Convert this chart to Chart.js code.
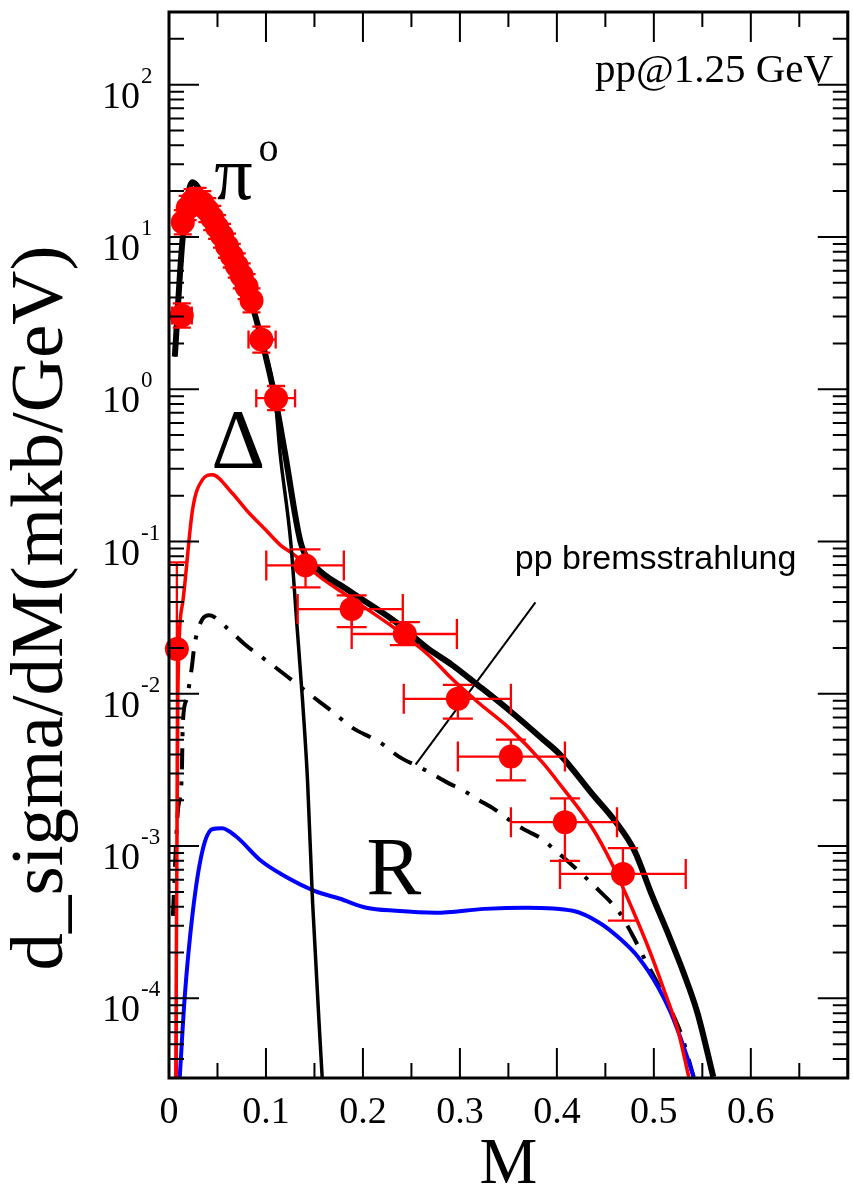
<!DOCTYPE html>
<html><head><meta charset="utf-8">
<style>
html,body{margin:0;padding:0;background:#fff;overflow:hidden;width:853px;height:1189px}
#wrap{width:853px;height:1189px;position:relative}
canvas{display:block}
</style>
<script src="https://cdn.jsdelivr.net/npm/chart.js@4/dist/chart.umd.min.js"></script>
</head><body><div id="wrap"><canvas id="c" width="853" height="1189"></canvas></div>
<script>
// ---------- data ----------
const totalM = [0.006, 0.0142, 0.0243, 0.04, 0.06, 0.0851, 0.0952, 0.1094, 0.1196, 0.1358, 0.15, 0.1834, 0.234, 0.2675, 0.2918, 0.3181, 0.3526, 0.386, 0.4032, 0.4367, 0.46, 0.4802, 0.4975, 0.5147, 0.5309, 0.5451, 0.5613];
const totalV = [1.64, 10, 22.9, 15.5, 8.5, 3.65, 2.15, 0.873, 0.382, 0.0985, 0.0697, 0.0486, 0.0296, 0.0197, 0.0155, 0.01146, 0.00763, 0.0050, 0.00399, 0.00219, 0.00146, 0.000927, 0.000485, 0.000266, 0.000146, 0.0000798, 0.0000305];

const pi0M = [0.006, 0.0142, 0.0243, 0.04, 0.06, 0.0851, 0.0952, 0.1094, 0.1145, 0.1256, 0.1317, 0.1378, 0.1429, 0.148, 0.158];
const pi0V = [1.64, 10, 22.9, 15.5, 8.5, 3.65, 2.15, 0.87, 0.382, 0.0984, 0.0296, 0.00887, 0.00266, 0.000437, 0.00003];

const deltaM = [0.007, 0.0091, 0.0142, 0.0243, 0.0344, 0.0446, 0.0648, 0.0821, 0.0993, 0.1155, 0.1256, 0.1429, 0.15, 0.1834, 0.234, 0.2675, 0.2918, 0.318, 0.3526, 0.386, 0.4032, 0.4367, 0.457, 0.4772, 0.4944, 0.5106, 0.5248, 0.536];
const deltaV = [0.00003, 0.0098, 0.040, 0.162, 0.254, 0.274, 0.209, 0.155, 0.120, 0.094, 0.0848, 0.0697, 0.0627, 0.0443, 0.0266, 0.018, 0.01254, 0.00887, 0.00582, 0.00349, 0.00254, 0.00131, 0.00076, 0.000394, 0.000215, 0.000113, 0.0000618, 0.0000305];

const resM = [0.0111, 0.0162, 0.0243, 0.0344, 0.0446, 0.0547, 0.0689, 0.0952, 0.1155, 0.15, 0.1763, 0.2036, 0.234, 0.2746, 0.3252, 0.3688, 0.4164, 0.4438, 0.464, 0.4843, 0.5046, 0.5177, 0.5309, 0.541];
const resV = [0.0000305, 0.000102, 0.00036, 0.000927, 0.00129, 0.00131, 0.00116, 0.000798, 0.000656, 0.000508, 0.000451, 0.000394, 0.000376, 0.000365, 0.000387, 0.000394, 0.000376, 0.000314, 0.00025, 0.000185, 0.000118, 0.0000798, 0.0000479, 0.0000305];

const bremM = [0.004, 0.0091, 0.0132, 0.0142, 0.0182, 0.0233, 0.0263, 0.0344, 0.0415, 0.0588, 0.079, 0.1023, 0.1226, 0.1459, 0.1662, 0.1905, 0.2107, 0.2209, 0.237, 0.2614, 0.2867, 0.305, 0.3181, 0.3354, 0.3526, 0.3658, 0.383, 0.3992, 0.4235, 0.4438, 0.464, 0.4772, 0.4904, 0.5076, 0.5177, 0.5279, 0.541];
const bremV = [0.000348, 0.00169, 0.00296, 0.00627, 0.00927, 0.01456, 0.0209, 0.0309, 0.0328, 0.0274, 0.0209, 0.0162, 0.0129, 0.00984, 0.00785, 0.0059, 0.00508, 0.00464, 0.00387, 0.00323, 0.00262, 0.00229, 0.00203, 0.00175, 0.00146, 0.00129, 0.00113, 0.000927, 0.000676, 0.000508, 0.00037, 0.000266, 0.000182, 0.000113, 0.0000835, 0.000059, 0.0000305];

const pointerM = [0.2543, 0.3779];
const pointerV = [0.00343, 0.0399];

// experimental points with error bars
const expM    = [0.0081, 0.0132, 0.0142, 0.0193, 0.0243, 0.0294, 0.0344, 0.0395, 0.0446, 0.0496, 0.0547, 0.0598, 0.0648, 0.0699, 0.075, 0.08, 0.0851, 0.0952, 0.1104, 0.1408, 0.1884, 0.2432, 0.2979, 0.3526, 0.4083, 0.4681];
const expV    = [0.0197, 3.05, 12.5, 15.5, 17.2, 17.5, 16.7, 15.0, 13.3, 11.6, 10.2, 8.73, 7.51, 6.46, 5.56, 4.71, 3.82, 2.12, 0.873, 0.0697, 0.036, 0.0247, 0.00927, 0.00387, 0.001435, 0.000656];
const expMlo  = [0.0031, 0.003, 0.0082, 0.0133, 0.0183, 0.0234, 0.0284, 0.0335, 0.0386, 0.0436, 0.0487, 0.0538, 0.0588, 0.0639, 0.069, 0.074, 0.0791, 0.082, 0.090, 0.1003, 0.1327, 0.1884, 0.2421, 0.2979, 0.3526, 0.4032];
const expMhi  = [0.0131, 0.0235, 0.0202, 0.0253, 0.0303, 0.0354, 0.0404, 0.0455, 0.0506, 0.0556, 0.0607, 0.0658, 0.0708, 0.0759, 0.081, 0.086, 0.0911, 0.110, 0.130, 0.1803, 0.2411, 0.2969, 0.3526, 0.4083, 0.462, 0.5329];
const expVlo  = [0.000001, 2.54, 10.4, 12.9, 14.3, 14.6, 13.9, 12.5, 11.1, 9.7, 8.5, 7.3, 6.3, 5.4, 4.6, 3.9, 3.2, 1.74, 0.73, 0.05, 0.0274, 0.0209, 0.00687, 0.0027, 0.0008, 0.000324];
const expVhi  = [0.073, 3.66, 15.0, 18.6, 20.6, 21.0, 20.0, 18.0, 16.0, 13.9, 12.2, 10.5, 9.0, 7.8, 6.7, 5.7, 4.6, 2.58, 1.05, 0.0887, 0.0443, 0.0296, 0.01146, 0.0050, 0.00206, 0.00097];

// axes (the right-hand frame at M = 0.7 lies just past the picture edge)
const X_MAJOR = [0, 0.1, 0.2, 0.3, 0.4, 0.5, 0.6, 0.7];
const X_MINOR = [0.05, 0.15, 0.25, 0.35, 0.45, 0.55, 0.65];
const X_LABELS = ['0', '0.1', '0.2', '0.3', '0.4', '0.5', '0.6'];
const X_MIN = 0, X_FRAME = 0.7, X_VISIBLE_MAX = 0.693;
const Y_DECADES = [2, 1, 0, -1, -2, -3, -4];
const Y_MIN = 3e-5, Y_MAX = 300;

// ---------- chart ----------
const xy = (xs, ys) => xs.map((x, i) => ({ x: x, y: ys[i] }));
const SERIF = '"Liberation Serif", "Times New Roman", serif';
const SANS = '"Liberation Sans", Arial, sans-serif';

function lineDs(label, xs, ys, color, width, extra) {
  return Object.assign({
    label: label, data: xy(xs, ys), showLine: true, borderColor: color,
    backgroundColor: color, borderWidth: width, pointRadius: 0, fill: false,
    cubicInterpolationMode: 'monotone', clip: 0, borderJoinStyle: 'round', borderCapStyle: 'butt'
  }, extra || {});
}

const decor = {
  id: 'decor',
  beforeDatasetDraw(chart, args) {
    if (args.index !== 0) return;
    const ctx = chart.ctx, xs = chart.scales.x, ys = chart.scales.y, a = chart.chartArea;
    ctx.save();
    ctx.beginPath(); ctx.rect(a.left, a.top, a.right - a.left, a.bottom - a.top); ctx.clip();
    ctx.strokeStyle = '#ff0000'; ctx.lineWidth = 2.3;
    for (let i = 0; i < expM.length; i++) {
      const px = xs.getPixelForValue(expM[i]), py = ys.getPixelForValue(expV[i]);
      const xl = xs.getPixelForValue(expMlo[i]), xh = xs.getPixelForValue(expMhi[i]);
      const yl = ys.getPixelForValue(expVlo[i]), yh = ys.getPixelForValue(expVhi[i]);
      const big = (expMhi[i] - expMlo[i]) > 0.05;
      const cap = big ? 15 : 9;
      ctx.beginPath();
      ctx.moveTo(xl, py); ctx.lineTo(xh, py);
      ctx.moveTo(xl, py - cap); ctx.lineTo(xl, py + cap);
      ctx.moveTo(xh, py - cap); ctx.lineTo(xh, py + cap);
      ctx.moveTo(px, yl); ctx.lineTo(px, yh);
      ctx.moveTo(px - cap, yh); ctx.lineTo(px + cap, yh);
      ctx.moveTo(px - cap, yl); ctx.lineTo(px + cap, yl);
      ctx.stroke();
    }
    ctx.restore();
  },
  afterDraw(chart) {
    const ctx = chart.ctx, xs = chart.scales.x, ys = chart.scales.y, a = chart.chartArea;
    const R = xs.getPixelForValue(X_FRAME);
    ctx.save();
    // ticks
    ctx.strokeStyle = '#000'; ctx.lineWidth = 2;
    ctx.beginPath();
    X_MAJOR.forEach(v => { const p = xs.getPixelForValue(v);
      ctx.moveTo(p, a.bottom); ctx.lineTo(p, a.bottom - 30);
      ctx.moveTo(p, a.top); ctx.lineTo(p, a.top + 30); });
    X_MINOR.forEach(v => { const p = xs.getPixelForValue(v);
      ctx.moveTo(p, a.bottom); ctx.lineTo(p, a.bottom - 15);
      ctx.moveTo(p, a.top); ctx.lineTo(p, a.top + 15); });
    Y_DECADES.forEach(d => { const p = ys.getPixelForValue(Math.pow(10, d));
      ctx.moveTo(a.left, p); ctx.lineTo(a.left + 30, p);
      ctx.moveTo(R, p); ctx.lineTo(R - 30, p); });
    for (let d = -5; d <= 2; d++) for (let k = 2; k <= 9; k++) {
      const v = k * Math.pow(10, d);
      if (v < Y_MIN || v > Y_MAX) continue;
      const p = ys.getPixelForValue(v);
      ctx.moveTo(a.left, p); ctx.lineTo(a.left + 15, p);
      ctx.moveTo(R, p); ctx.lineTo(R - 15, p);
    }
    ctx.stroke();
    // frame
    ctx.lineWidth = 3;
    ctx.strokeRect(a.left, a.top, R - a.left, a.bottom - a.top);

    ctx.fillStyle = '#000';
    // x tick labels
    ctx.font = '38px ' + SERIF; ctx.textAlign = 'center'; ctx.textBaseline = 'alphabetic';
    X_LABELS.forEach((t, i) => ctx.fillText(t, xs.getPixelForValue(X_MAJOR[i]), 1123));
    // y tick labels
    Y_DECADES.forEach(d => {
      const p = ys.getPixelForValue(Math.pow(10, d));
      ctx.font = '38px ' + SERIF; ctx.textAlign = 'left';
      ctx.fillText('10', 102, p + 23);
      const w = ctx.measureText('10').width;
      ctx.font = '23px ' + SERIF;
      ctx.fillText(String(d), 102 + w + 1, p - 2);
    });
    // axis titles
    ctx.font = '65px ' + SERIF; ctx.textAlign = 'center';
    ctx.fillText('M', (a.left + R) / 2, 1183);
    ctx.save();
    ctx.translate(62, 608); ctx.rotate(-Math.PI / 2);
    ctx.font = '75px ' + SERIF; ctx.textAlign = 'center';
    ctx.fillText('d_sigma/dM(mkb/GeV)', 0, 0);
    ctx.restore();

    // annotations
    ctx.textAlign = 'left';
    ctx.font = '76px ' + SERIF;
    ctx.fillText('\u03C0', xs.getPixelForValue(0.0466), ys.getPixelForValue(17.7));
    ctx.font = '40px ' + SERIF;
    ctx.fillText('o', xs.getPixelForValue(0.0922), ys.getPixelForValue(31.4));
    ctx.font = '84px ' + SERIF;
    ctx.fillText('\u0394', xs.getPixelForValue(0.0436), ys.getPixelForValue(0.305));
    ctx.font = '82px ' + SERIF;
    ctx.fillText('R', xs.getPixelForValue(0.2036), ys.getPixelForValue(0.000485));
    ctx.font = '34px ' + SANS;
    ctx.fillText('pp bremsstrahlung', xs.getPixelForValue(0.3566), ys.getPixelForValue(0.0656));
    ctx.font = '41px ' + SERIF; ctx.textAlign = 'right';
    ctx.fillText('pp@1.25 GeV', xs.getPixelForValue(0.6849), ys.getPixelForValue(104.6));
    ctx.restore();
  }
};

new Chart(document.getElementById('c'), {
  type: 'scatter',
  data: {
    datasets: [
      { label: 'data', data: xy(expM, expV), showLine: false, pointRadius: 12, pointHoverRadius: 12,
        pointBackgroundColor: '#ff0000', pointBorderColor: '#ff0000', pointBorderWidth: 0, clip: false },
      lineDs('pi0', pi0M, pi0V, '#000000', 3.5),
      lineDs('total', totalM, totalV, '#000000', 6),
      lineDs('Delta', deltaM, deltaV, '#ff0000', 3.5),
      lineDs('R', resM, resV, '#0000ff', 4),
      lineDs('pp bremsstrahlung', bremM, bremV, '#000000', 4, { borderDash: [21, 12, 4, 12] }),
      lineDs('pointer', pointerM, pointerV, '#000000', 2, { cubicInterpolationMode: 'default', tension: 0 })
    ]
  },
  options: {
    responsive: false, animation: false, devicePixelRatio: 1,
    layout: { padding: { left: 169, right: 0, top: 7, bottom: 111 } },
    plugins: { legend: { display: false }, tooltip: { enabled: false }, title: { display: false } },
    events: [],
    scales: {
      x: { type: 'linear', min: X_MIN, max: X_VISIBLE_MAX, display: false },
      y: { type: 'logarithmic', min: Y_MIN, max: Y_MAX, display: false }
    }
  },
  plugins: [decor]
});
</script></body></html>
